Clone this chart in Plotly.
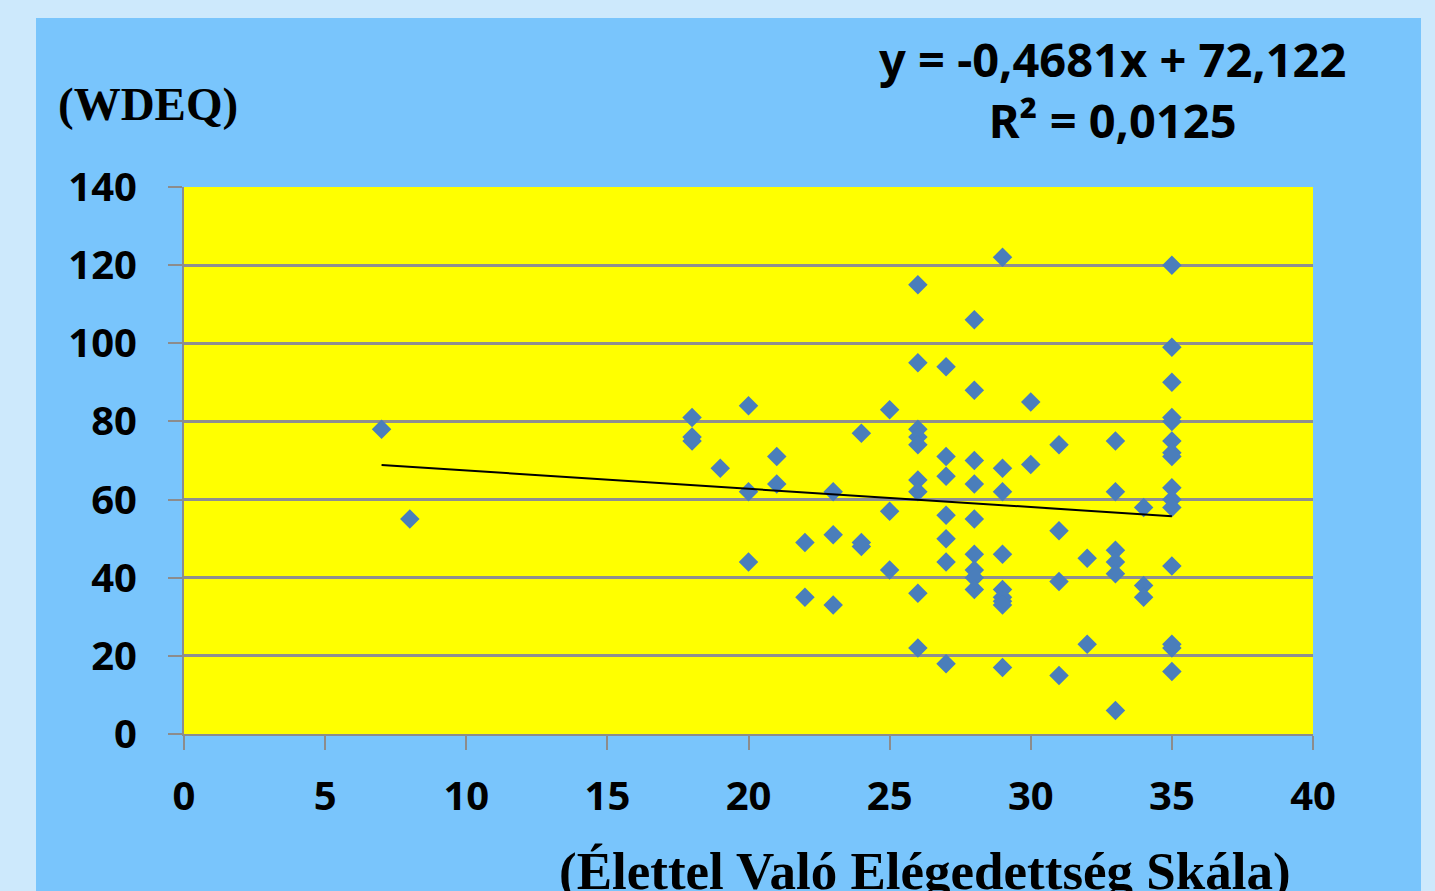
import plotly.graph_objects as go

# Élettel Való Elégedettség Skála scores (x) and WDEQ scores (y)
x_vals = [7, 8,
          18, 18, 18,
          19,
          20, 20, 20,
          21, 21,
          22, 22,
          23, 23, 23,
          24, 24, 24,
          25, 25, 25,
          26, 26, 26, 26, 26, 26, 26, 26, 26,
          27, 27, 27, 27, 27, 27, 27,
          28, 28, 28, 28, 28, 28, 28, 28, 28,
          29, 29, 29, 29, 29, 29, 29, 29, 29,
          30, 30,
          31, 31, 31, 31,
          32, 32,
          33, 33, 33, 33, 33, 33,
          34, 34, 34,
          35, 35, 35, 35, 35, 35, 35, 35, 35, 35, 35, 35, 35, 35, 35]
y_vals = [78, 55,
          81, 76, 75,
          68,
          84, 62, 44,
          71, 64,
          49, 35,
          62, 51, 33,
          77, 49, 48,
          83, 57, 42,
          115, 95, 78, 76, 74, 65, 62, 36, 22,
          94, 71, 66, 56, 50, 44, 18,
          106, 88, 70, 64, 55, 46, 42, 40, 37,
          122, 68, 62, 46, 37, 35, 34, 33, 17,
          85, 69,
          74, 52, 39, 15,
          45, 23,
          75, 62, 47, 44, 41, 6,
          58, 38, 35,
          120, 99, 90, 81, 80, 75, 72, 71, 63, 60, 58, 43, 23, 22, 16]

# Linear trendline as stated on the chart
slope = -0.4681
intercept = 72.122
equation_text = "y = -0,4681x + 72,122<br>R² = 0,0125"

x_ticks = [0, 5, 10, 15, 20, 25, 30, 35, 40]
y_ticks = [0, 20, 40, 60, 80, 100, 120, 140]

trend_x = [min(x_vals), max(x_vals)]
trend_y = [slope * v + intercept for v in trend_x]

fig = go.Figure()
fig.add_trace(go.Scatter(
    x=x_vals, y=y_vals, mode="markers",
    marker=dict(symbol="diamond", size=15, color="#4a7ebb", line=dict(width=0)),
    showlegend=False, hoverinfo="x+y"))
fig.add_trace(go.Scatter(
    x=trend_x, y=trend_y, mode="lines",
    line=dict(color="black", width=2),
    showlegend=False, hoverinfo="skip"))

W, H = 1435, 891
L, R, T, B = 184, 1313, 187, 734
pw, ph = R - L, B - T

def px2paper_x(px):
    return (px - L) / pw

def px2paper_y(py):
    return (B - py) / ph

tick_font = dict(family="Noto Sans, Open Sans, sans-serif", size=40, color="black", weight="bold")

fig.update_layout(
    width=W, height=H,
    margin=dict(l=L, r=W - R, t=T, b=H - B, autoexpand=False),
    paper_bgcolor="#cde9fc",
    plot_bgcolor="#ffff00",
    xaxis=dict(range=[0, 40], tickvals=x_ticks, ticktext=[str(v) for v in x_ticks],
               showgrid=False, zeroline=False, showline=True, linecolor="#8c8c8c", linewidth=2,
               ticks="outside", ticklen=14, tickwidth=2, tickcolor="#8c8c8c",
               tickfont=tick_font, ticklabelstandoff=12, fixedrange=True),
    yaxis=dict(range=[0, 140], tickvals=y_ticks, ticktext=[str(v) for v in y_ticks],
               showgrid=True, gridcolor="#8f8f8f", gridwidth=2.5, zeroline=False,
               showline=True, linecolor="#8c8c8c", linewidth=2,
               ticks="outside", ticklen=14, tickwidth=2, tickcolor="#8c8c8c",
               tickfont=tick_font, ticklabelstandoff=23, fixedrange=True),
    shapes=[
        dict(type="rect", xref="paper", yref="paper", layer="below",
             x0=px2paper_x(36), x1=px2paper_x(1421), y0=px2paper_y(H + 5), y1=px2paper_y(18),
             fillcolor="#79c5fc", line=dict(width=0)),
        dict(type="rect", xref="paper", yref="paper", layer="below",
             x0=0, x1=1, y0=0, y1=1,
             fillcolor="#ffff00", line=dict(width=0)),
    ],
    annotations=[
        dict(text="(WDEQ)", xref="paper", yref="paper", x=px2paper_x(56), y=px2paper_y(104),
             xanchor="left", yanchor="middle", showarrow=False,
             font=dict(family="Liberation Serif, Times New Roman, serif", size=47, color="black", weight="bold")),
        dict(text="(Élettel Való Elégedettség Skála)", xref="paper", yref="paper",
             x=px2paper_x(925), y=px2paper_y(840), xanchor="center", yanchor="top", showarrow=False,
             font=dict(family="Liberation Serif, Times New Roman, serif", size=53, color="black", weight="bold")),
        dict(text=equation_text, xref="paper", yref="paper",
             x=px2paper_x(1112), y=px2paper_y(89), xanchor="center", yanchor="middle", showarrow=False,
             align="center",
             font=dict(family="Noto Sans, Open Sans, sans-serif", size=47, color="black", weight="bold")),
    ],
)

fig.write_html("out.html", config={"displayModeBar": False},
               post_script="document.body.style.margin='0';document.body.style.background='#cde9fc';")
